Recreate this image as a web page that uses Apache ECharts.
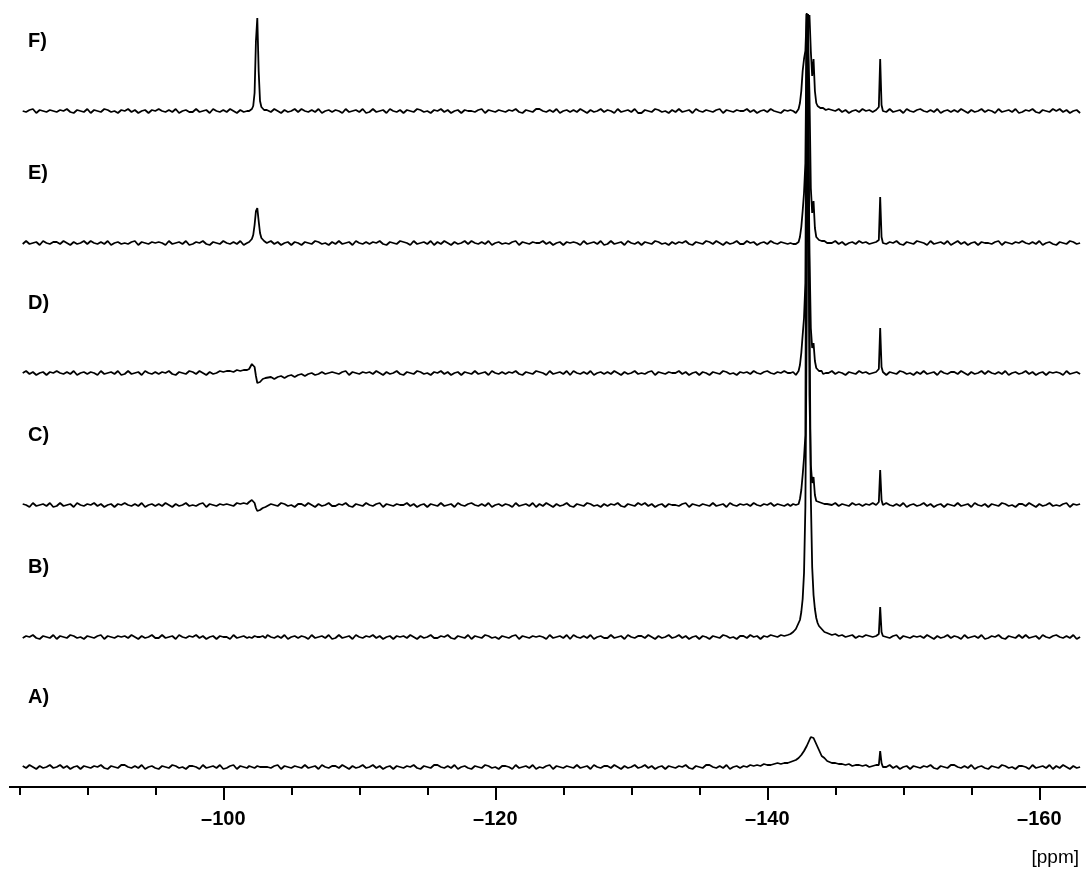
<!DOCTYPE html>
<html><head><meta charset="utf-8">
<script src="https://cdn.jsdelivr.net/npm/echarts@6/dist/echarts.min.js"></script>
<style>html,body{margin:0;padding:0;background:#fff}#c{width:1086px;height:871px}</style>
</head><body><div id="c"></div><script>
// chemical shift grid (ppm)
const ppm = [
-85.25,-85.5,-85.75,
-86,-86.25,-86.5,-86.75, -87,-87.25,-87.5,-87.75, -88,-88.25,-88.5,-88.75, -89,-89.25,-89.5,-89.75,
-90,-90.25,-90.5,-90.75, -91,-91.25,-91.5,-91.75, -92,-92.25,-92.5,-92.75, -93,-93.25,-93.5,-93.75,
-94,-94.25,-94.5,-94.75, -95,-95.25,-95.5,-95.75, -96,-96.25,-96.5,-96.75, -97,-97.25,-97.5,-97.75,
-98,-98.25,-98.5,-98.75, -99,-99.25,-99.5,-99.75, -100,-100.25,-100.5,-100.75, -101,-101.25,-101.5,-101.75,
-101.8,-101.9,-102.0,-102.1,-102.2,-102.3,-102.4,-102.5,-102.6,-102.7,-102.8,-102.9,-103.0,-103.1,-103.2,
-103.25,-103.5,-103.75,
-104,-104.25,-104.5,-104.75, -105,-105.25,-105.5,-105.75, -106,-106.25,-106.5,-106.75, -107,-107.25,-107.5,-107.75,
-108,-108.25,-108.5,-108.75, -109,-109.25,-109.5,-109.75, -110,-110.25,-110.5,-110.75, -111,-111.25,-111.5,-111.75,
-112,-112.25,-112.5,-112.75, -113,-113.25,-113.5,-113.75, -114,-114.25,-114.5,-114.75, -115,-115.25,-115.5,-115.75,
-116,-116.25,-116.5,-116.75, -117,-117.25,-117.5,-117.75, -118,-118.25,-118.5,-118.75, -119,-119.25,-119.5,-119.75,
-120,-120.25,-120.5,-120.75, -121,-121.25,-121.5,-121.75, -122,-122.25,-122.5,-122.75, -123,-123.25,-123.5,-123.75,
-124,-124.25,-124.5,-124.75, -125,-125.25,-125.5,-125.75, -126,-126.25,-126.5,-126.75, -127,-127.25,-127.5,-127.75,
-128,-128.25,-128.5,-128.75, -129,-129.25,-129.5,-129.75, -130,-130.25,-130.5,-130.75, -131,-131.25,-131.5,-131.75,
-132,-132.25,-132.5,-132.75, -133,-133.25,-133.5,-133.75, -134,-134.25,-134.5,-134.75, -135,-135.25,-135.5,-135.75,
-136,-136.25,-136.5,-136.75, -137,-137.25,-137.5,-137.75, -138,-138.25,-138.5,-138.75, -139,-139.25,-139.5,-139.75,
-140,-140.25,-140.5,-140.75, -141,-141.25,-141.5,
-141.6,-141.7,-141.8,-141.9,-142.0,-142.1,-142.2,-142.3,-142.4,-142.5,-142.6,-142.7,-142.8,-142.9,-143.0,-143.1,-143.2,-143.3,-143.4,-143.5,-143.6,-143.7,-143.8,-143.9,-144.0,-144.1,-144.2,-144.3,-144.4,
-144.5,-144.75, -145,-145.25,-145.5,-145.75, -146,-146.25,-146.5,-146.75, -147,-147.25,-147.5,-147.75, -148,
-148.1,-148.2,-148.3,-148.4,-148.5,-148.6,
-148.75,
-149,-149.25,-149.5,-149.75, -150,-150.25,-150.5,-150.75, -151,-151.25,-151.5,-151.75, -152,-152.25,-152.5,-152.75,
-153,-153.25,-153.5,-153.75, -154,-154.25,-154.5,-154.75, -155,-155.25,-155.5,-155.75, -156,-156.25,-156.5,-156.75,
-157,-157.25,-157.5,-157.75, -158,-158.25,-158.5,-158.75, -159,-159.25,-159.5,-159.75, -160,-160.25,-160.5,-160.75,
-161,-161.25,-161.5,-161.75, -162,-162.25,-162.5,-162.75, -163
];

// intensities (arbitrary units) per spectrum, same length as ppm
const specA = [
1,-1,2,0,-2,1,-1,0,2,-1,
0,2,-1,1,-2,0,1,-2,1,0,
-1,1,0,2,-1,-2,1,0,-1,2,
2,0,-1,1,-1,2,-2,0,1,-1,
-2,1,0,-1,2,1,-1,0,-2,1,
1,0,-2,2,-1,0,1,-1,2,-2,
-1,1,2,-2,1,0,-1,
0,1,1,0,-1,-1,0,1,1,0,-1,0,1,0,-1,
0,-1,1,2,-2,1,0,-1,1,0,
-1,2,-1,0,1,-2,2,0,-1,1,
1,-1,2,0,-2,1,-1,0,2,-1,
0,2,-1,1,-2,0,1,-2,1,0,
-1,1,0,2,-1,-2,1,0,-1,2,
2,0,-1,1,-1,2,-2,0,1,-1,
-2,1,0,-1,2,1,-1,0,-2,1,
1,0,-2,2,-1,0,1,-1,2,-2,
0,-1,1,2,-2,1,0,-1,1,0,
-1,2,-1,0,1,-2,2,0,-1,1,
1,-1,2,0,-2,1,-1,0,2,-1,
0,2,-1,1,-2,0,1,-2,1,0,
-1,1,0,2,-1,-2,1,0,-1,2,
2,0,-1,1,-1,2,-2,0,1,-1,
1,0,2,1,2,1,3,2,2,3,4,3,4,4,
4,5,4,6,5,7,6,9,9,12,13,16,18,21,24,27,30,31,29,27,23,20,17,14,11,10,9,7,6,
5,4,4,3,3,2,3,1,2,2,1,2,0,1,2,
1,2,16,4,0,1,
0,2,-1,1,-2,0,1,-2,1,0,
-1,1,0,2,-1,-2,1,0,-1,2,
2,0,-1,1,-1,2,-2,0,1,-1,
-2,1,0,-1,2,1,-1,0,-2,1,
1,0,-2,2,-1,0,1,-1,2,-2,
1,-1,2,0,-2,1,-1,0
];
const specB = [
-1,1,0,2,-1,-2,1,0,-1,2,
-2,1,0,-1,2,1,-1,0,-2,1,
0,-1,1,2,-2,1,0,-1,1,0,
1,-1,2,0,-2,1,-1,0,2,-1,
-1,2,-1,0,1,-2,2,0,-1,1,
0,2,-1,1,-2,0,1,-2,1,0,
0,-2,2,-1,0,1,-1,
1,0,-1,-1,0,1,1,0,-1,0,1,1,0,-1,0,
2,0,-1,1,-1,2,-2,0,1,-1,
1,0,-2,2,-1,0,1,-1,2,-2,
-1,2,-1,0,1,-2,2,0,-1,1,
0,2,-1,1,-2,0,1,-2,1,0,
1,-1,2,0,-2,1,-1,0,2,-1,
-1,1,0,2,-1,-2,1,0,-1,2,
-2,1,0,-1,2,1,-1,0,-2,1,
0,-1,1,2,-2,1,0,-1,1,0,
1,0,-2,2,-1,0,1,-1,2,-2,
2,0,-1,1,-1,2,-2,0,1,-1,
-1,2,-1,0,1,-2,2,0,-1,1,
1,-1,2,0,-2,1,-1,0,2,-1,
0,2,-1,1,-2,0,1,-2,1,0,
-2,1,0,-1,2,1,-1,0,-2,1,
1,-1,2,0,1,-2,1,0,2,1,0,2,1,2,
4,3,5,5,7,8,11,13,17,25,38,64,130,320,623,330,140,70,42,28,19,14,11,9,8,6,5,4,4,
3,2,3,1,2,0,1,2,-1,1,0,2,1,0,1,
1,3,30,5,1,0,
0,-1,1,2,-2,1,0,-1,1,0,
1,-1,2,0,-2,1,-1,0,2,-1,
1,0,-2,2,-1,0,1,-1,2,-2,
-1,1,0,2,-1,-2,1,0,-1,2,
-1,2,-1,0,1,-2,2,0,-1,1,
2,0,-1,1,-1,2,-2,0
];
const specC = [
1,0,-2,2,-1,0,1,-1,2,-2,
-1,2,-1,0,1,-2,2,0,-1,1,
0,2,-1,1,-2,0,1,-2,1,0,
2,0,-1,1,-1,2,-2,0,1,-1,
1,-1,2,0,-2,1,-1,0,2,-1,
0,-1,1,2,-2,1,0,-1,1,0,
1,0,-1,2,1,2,1,
2,3,4,5,5,2,-3,-6,-7,-5,-4,-3,-3,-2,-2,
-2,1,0,-1,2,1,-1,0,-2,1,
1,-1,2,0,-2,1,-1,0,2,-1,
-1,1,0,2,-1,-2,1,0,-1,2,
0,-1,1,2,-2,1,0,-1,1,0,
0,2,-1,1,-2,0,1,-2,1,0,
-1,2,-1,0,1,-2,2,0,-1,1,
2,0,-1,1,-1,2,-2,0,1,-1,
1,0,-2,2,-1,0,1,-1,2,-2,
1,-1,2,0,-2,1,-1,0,2,-1,
-2,1,0,-1,2,1,-1,0,-2,1,
-1,1,0,2,-1,-2,1,0,-1,2,
0,2,-1,1,-2,0,1,-2,1,0,
0,-1,1,2,-2,1,0,-1,1,0,
-1,2,-1,0,1,-2,2,0,-1,1,
0,1,-1,2,0,-1,1,0,2,-1,1,0,-1,1,
1,-1,0,1,-1,0,-2,1,6,15,30,47,70,491,380,110,40,22,28,10,4,2,3,1,2,0,1,-1,1,
1,0,2,-1,1,0,-1,2,0,1,-1,1,0,2,0,
1,3,35,5,0,1,
2,0,-1,1,-1,2,-2,0,1,-1,
0,2,-1,1,-2,0,1,-2,1,0,
-1,2,-1,0,1,-2,2,0,-1,1,
-2,1,0,-1,2,1,-1,0,-2,1,
1,-1,2,0,-2,1,-1,0,2,-1,
0,-1,1,2,-2,1,0,1
];
const specD = [
0,2,-1,1,-2,0,1,-2,1,0,
2,0,-1,1,-1,2,-2,0,1,-1,
1,0,-2,2,-1,0,1,-1,2,-2,
-1,2,-1,0,1,-2,2,0,-1,1,
-1,1,0,2,-1,-2,1,0,-1,2,
1,-1,2,0,-2,1,-1,0,2,1,
2,2,1,3,2,3,3,
3,4,6,9,10,6,-3,-10,-11,-9,-7,-6,-6,-5,-5,
-5,-4,-6,-4,-3,-5,-3,-2,-4,-2,
-1,-3,-1,0,-2,-1,1,-1,0,1,
0,-1,1,2,-2,1,0,-1,1,0,
1,-1,2,0,-2,1,-1,0,2,-1,
-2,1,0,-1,2,1,-1,0,-2,1,
0,2,-1,1,-2,0,1,-2,1,0,
-1,2,-1,0,1,-2,2,0,-1,1,
-1,1,0,2,-1,-2,1,0,-1,2,
1,0,-2,2,-1,0,1,-1,2,-2,
2,0,-1,1,-1,2,-2,0,1,-1,
1,-1,2,0,-2,1,-1,0,2,-1,
0,-1,1,2,-2,1,0,-1,1,0,
0,2,-1,1,-2,0,1,-2,1,0,
-2,1,0,-1,2,1,-1,0,-2,1,
0,1,-1,2,0,-1,1,2,0,-1,1,0,2,0,
1,0,-1,1,0,-2,-1,2,8,20,38,55,90,359,260,120,45,25,30,12,5,3,2,1,2,-1,1,0,1,
0,2,-1,1,0,-2,1,0,-1,2,0,1,-1,0,1,
2,4,45,6,1,0,
-2,1,0,-1,2,1,-1,0,-2,1,
-1,2,-1,0,1,-2,2,0,-1,1,
1,-1,2,0,-2,1,-1,0,2,-1,
2,0,-1,1,-1,2,-2,0,1,-1,
0,2,-1,1,-2,0,1,-2,1,0,
1,0,-2,2,-1,0,1,-1
];
const specE = [
-1,2,-1,0,1,-2,2,0,-1,1,
1,-1,2,0,-2,1,-1,0,2,-1,
2,0,-1,1,-1,2,-2,0,1,-1,
0,-1,1,2,-2,1,0,-1,1,0,
1,0,-2,2,-1,0,1,-1,2,-2,
-1,1,0,2,-1,-2,1,0,-1,2,
0,-1,1,-1,2,-2,0,
0,1,2,4,8,18,32,35,22,10,5,3,2,1,0,
0,2,-1,1,-2,0,1,-2,1,0,
-2,1,0,-1,2,1,-1,0,-2,1,
-1,2,-1,0,1,-2,2,0,-1,1,
-1,1,0,2,-1,-2,1,0,-1,2,
1,0,-2,2,-1,0,1,-1,2,-2,
1,-1,2,0,-2,1,-1,0,2,-1,
2,0,-1,1,-1,2,-2,0,1,-1,
0,-1,1,2,-2,1,0,-1,1,0,
0,2,-1,1,-2,0,1,-2,1,0,
1,0,-2,2,-1,0,1,-1,2,-2,
-1,2,-1,0,1,-2,2,0,-1,1,
-2,1,0,-1,2,1,-1,0,-2,1,
-1,1,0,2,-1,-2,1,0,-1,2,
1,-1,2,0,-2,1,-1,0,2,-1,
-1,2,0,1,-2,0,1,-1,2,0,-1,1,0,-1,
1,0,1,-1,0,-1,-2,1,6,16,32,50,80,229,200,150,55,30,42,15,6,4,3,2,2,1,2,1,0,
1,0,2,-1,1,-2,0,1,-1,2,0,1,-1,0,1,
1,3,46,6,0,1,
-1,1,0,2,-1,-2,1,0,-1,2,
1,0,-2,2,-1,0,1,-1,2,-2,
0,2,-1,1,-2,0,1,-2,1,0,
0,-1,1,2,-2,1,0,-1,1,0,
2,0,-1,1,-1,2,-2,0,1,-1,
-2,1,0,-1,2,1,-1,0
];
const specF = [
0,-1,1,2,-2,1,0,-1,1,0,
-1,1,0,2,-1,-2,1,0,-1,2,
-2,1,0,-1,2,1,-1,0,-2,1,
0,2,-1,1,-2,0,1,-2,1,0,
2,0,-1,1,-1,2,-2,0,1,-1,
-1,2,-1,0,1,-2,2,0,-1,1,
-1,2,0,-2,1,-1,0,
1,0,1,2,5,18,70,93,40,10,4,2,1,0,1,
1,-1,2,0,-2,1,-1,0,2,-1,
2,0,-1,1,-1,2,-2,0,1,-1,
1,0,-2,2,-1,0,1,-1,2,-2,
-1,2,-1,0,1,-2,2,0,-1,1,
-2,1,0,-1,2,1,-1,0,-2,1,
0,2,-1,1,-2,0,1,-2,1,0,
0,-1,1,2,-2,1,0,-1,1,0,
-1,1,0,2,-1,-2,1,0,-1,2,
2,0,-1,1,-1,2,-2,0,1,-1,
1,-1,2,0,-2,1,-1,0,2,-1,
1,0,-2,2,-1,0,1,-1,2,-2,
-2,1,0,-1,2,1,-1,0,-2,1,
-1,2,-1,0,1,-2,2,0,-1,1,
0,-1,1,2,-2,1,0,-1,1,0,
0,2,-1,1,-2,0,1,-1,2,0,-1,-2,1,0,
0,1,-1,0,-1,-2,-3,2,8,20,40,52,60,98,85,96,60,35,52,20,8,5,4,3,2,3,2,1,2,
2,1,0,2,-1,1,-2,0,1,-1,2,0,1,-1,1,
1,4,52,6,0,1,
-1,2,-1,0,1,-2,2,0,-1,1,
2,0,-1,1,-1,2,-2,0,1,-1,
1,-1,2,0,-2,1,-1,0,2,-1,
1,0,-2,2,-1,0,1,-1,2,-2,
-1,1,0,2,-1,-2,1,0,-1,2,
0,2,-1,1,-2,0,1,-2
];
const traceLabels = ['A)','B)','C)','D)','E)','F)'];
const tickLabels = [-100,-120,-140,-160];

// layout (stack offsets in px above the axis)
const traces = [specA, specB, specC, specD, specE, specF];
const stackOffset = [20, 150, 282, 414, 544, 676];
const AXIS_Y = 787;
const FONT = '"Liberation Sans", Arial, sans-serif';

const chart = echarts.init(document.getElementById('c'), null, {renderer: 'canvas'});
const series = traces.map((vals, k) => ({
  type: 'line',
  name: traceLabels[k],
  data: ppm.map((x, i) => [x, (vals[i] || 0) + stackOffset[k]]),
  symbol: 'none',
  showSymbol: false,
  lineStyle: {color: '#000', width: 1.8},
  animation: false,
  clip: false
}));

const graphics = traceLabels.map((t, k) => ({
  type: 'text', x: 28, y: AXIS_Y - stackOffset[k] - 70, z: 10,
  style: {text: t, fontSize: 20, fontWeight: 'bold', fontFamily: FONT, fill: '#000', verticalAlign: 'middle'}
}));
graphics.push({type: 'text', x: 1079, y: 858, z: 10,
  style: {text: '[ppm]', fontSize: 19, fontFamily: FONT, fill: '#000', align: 'right', verticalAlign: 'middle'}});
graphics.push({type: 'rect', shape: {x: 0, y: 780, width: 9, height: 12}, style: {fill: '#fff'}, z: 100});

chart.setOption({
  animation: false,
  backgroundColor: '#fff',
  grid: {left: -48.7, right: -225.3, top: 0, bottom: 871 - AXIS_Y, containLabel: false, outerBoundsMode: 'none'},
  xAxis: {
    type: 'value', min: -180, max: -80, interval: 20, inverse: true,
    axisLine: {lineStyle: {color: '#000', width: 2}},
    axisTick: {length: 13, lineStyle: {color: '#000', width: 2}},
    minorTick: {show: true, splitNumber: 4, length: 8, lineStyle: {color: '#000', width: 2}},
    splitLine: {show: false}, minorSplitLine: {show: false},
    axisLabel: {
      margin: 22, fontSize: 20, fontWeight: 'bold', fontFamily: FONT, color: '#000',
      formatter: v => tickLabels.indexOf(v) >= 0 ? '\u2013' + Math.abs(v) : ''
    }
  },
  yAxis: {type: 'value', min: 0, max: AXIS_Y, show: false},
  series: series,
  graphic: graphics
});
</script></body></html>
